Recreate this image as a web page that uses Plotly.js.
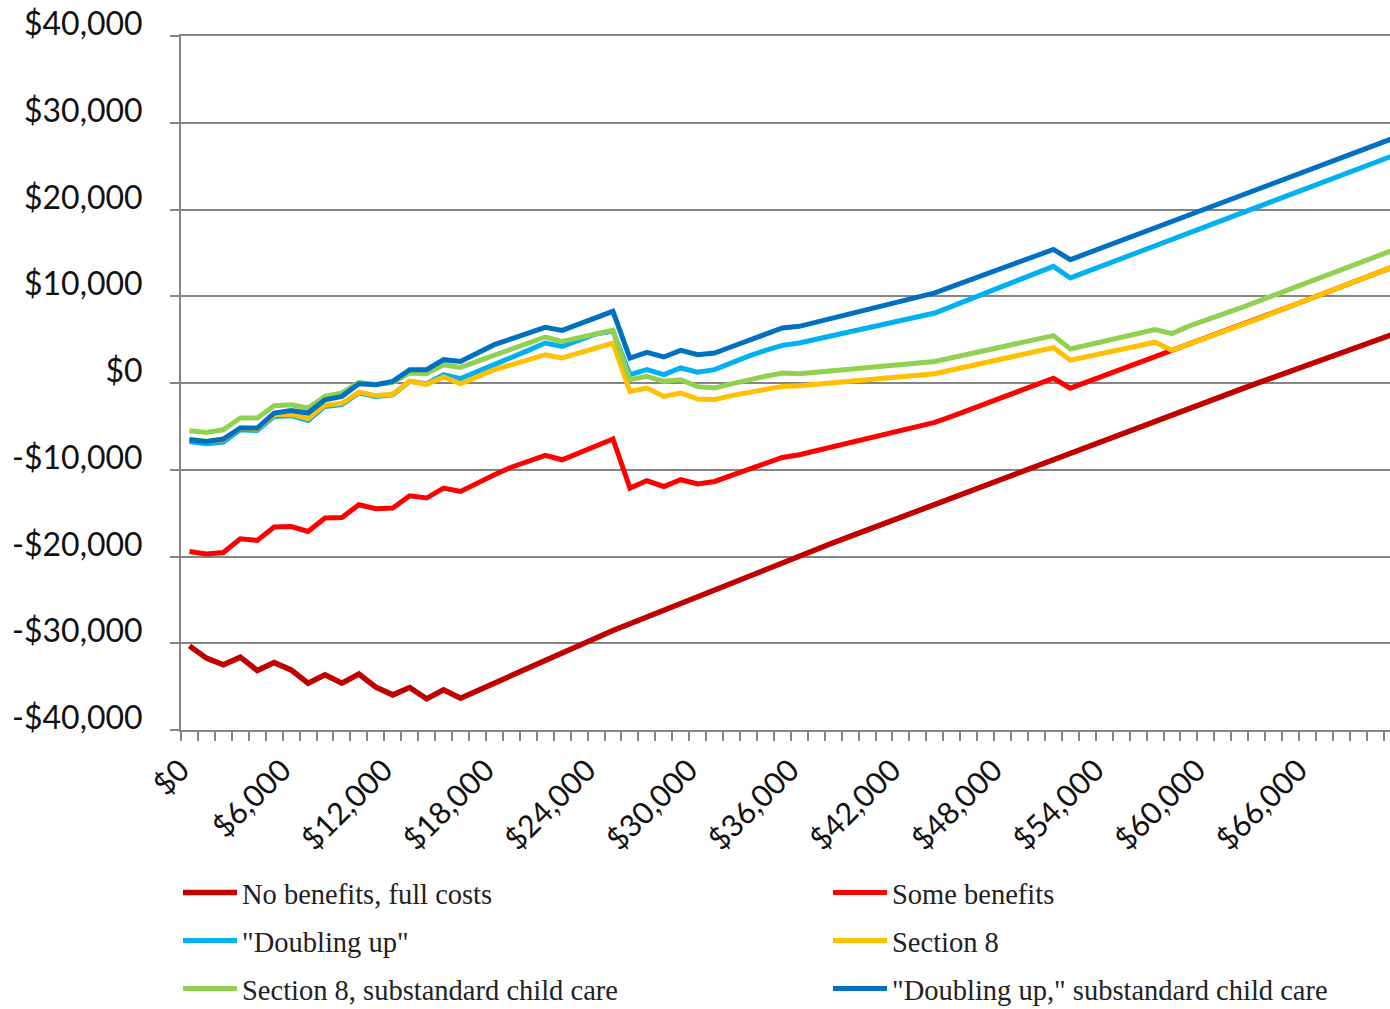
<!DOCTYPE html>
<html>
<head>
<meta charset="utf-8">
<script src="https://cdn.plot.ly/plotly-3.0.1.min.js"></script>
<style>
html,body{margin:0;padding:0;background:#fff;}
#chart{width:1390px;height:1009px;}
</style>
</head>
<body>
<div id="chart"></div>
<script>
// Annual earnings (x categories)
const income = [0,1000,2000,3000,4000,5000,6000,7000,8000,9000,10000,11000,12000,13000,14000,15000,16000,17000,18000,19000,20000,21000,22000,23000,24000,25000,26000,27000,28000,29000,30000,31000,32000,33000,34000,35000,36000,37000,38000,39000,40000,41000,42000,43000,44000,45000,46000,47000,48000,49000,50000,51000,52000,53000,54000,55000,56000,57000,58000,59000,60000,61000,62000,63000,64000,65000,66000,67000,68000,69000,70000,71000];

const noBenefits = [-30300,-31720,-32490,-31600,-33150,-32230,-33070,-34600,-33640,-34600,-33560,-35060,-35950,-35110,-36410,-35370,-36330,
  -35450,-34580,-33700,-32830,-31950,-31080,-30200,-29320,-28530,-27750,-26960,-26180,-25390,-24610,-23820,-23040,-22250,-21470,-20680,
  -19900,-19160,-18420,-17680,-16940,-16200,-15460,-14720,-13980,-13240,-12500,-11760,-11010,-10270,-9530,-8790,-8050,-7310,-6570,-5830,
  -5090,-4300,-3580,-2870,-2170,-1460,-760,-50,650,1360,2060,2770,3470,4180,4880,5590];

const someBenefits = [-19420,-19720,-19540,-17960,-18150,-16610,-16540,-17120,-15570,-15500,-14040,-14500,-14420,-13000,-13260,-12110,-12500,
  -11500,-10580,-9710,-8960,-8350,-8850,-8040,-7230,-6460,
  -12110,-11270,-11930,-11150,-11630,-11350,
  -10650,-9950,-9250,-8580,
  -8270,-7800,-7340,-6870,-6410,-5940,-5470,-5010,-4540,
  -3850,-3100,-2350,-1600,-850,-100,550,-600,
  120,840,1560,2280,3000,3760,
  4450,5140,5840,6590,7340,8100,8850,9600,10350,11100,11860,12610,13360];

const doublingUp = [-6740,-7000,-6810,-5390,-5470,-3850,-3770,-4310,-2700,-2500,-1150,-1540,-1350,190,-80,960,500,
  1280,2110,2930,3760,4610,4220,4950,5650,6000,
  960,1540,960,1730,1250,1540,
  2350,3100,3750,4340,
  4610,5040,5480,5910,6340,6770,7210,7640,8070,
  8840,9610,10380,11150,11910,12680,13450,12110,
  12850,13590,14330,15070,15810,16550,17290,18030,18770,19510,20250,20990,21730,22470,23210,23950,24690,25430,26170];

const section8 = [-6450,-6750,-6550,-5200,-5300,-3650,-3600,-4100,-2550,-2350,-1050,-1450,-1300,200,-150,700,-100,
  700,1530,2100,2750,3260,2880,3470,4060,4610,
  -970,-580,-1550,-1150,-1850,-1900,
  -1450,-1050,-700,-390,
  -310,-140,30,200,380,550,720,900,1070,
  1500,1930,2370,2800,3230,3660,4080,2630,
  3050,3470,3890,4310,4700,3760,
  4450,5140,5840,6590,7340,8100,8850,9600,10350,11100,11860,12610,13360];

const section8Sub = [-5500,-5700,-5390,-4040,-4040,-2620,-2500,-2880,-1540,-1150,70,-200,70,1150,1070,2110,1800,
  2470,3260,3930,4610,5300,4800,5260,5700,6100,
  380,760,190,380,-420,-580,
  -100,400,780,1150,
  1070,1250,1430,1600,1780,1960,2140,2310,2490,
  2910,3340,3760,4190,4610,5040,5460,3920,
  4370,4810,5260,5700,6150,5690,
  6550,7250,7880,8620,9360,10100,10840,11580,12320,13060,13800,14540,15280];

const doublingUpSub = [-6540,-6740,-6460,-5190,-5190,-3460,-3160,-3460,-1930,-1540,-80,-200,190,1530,1530,2690,2490,
  3490,4420,5090,5740,6420,6070,6820,7530,8260,
  2880,3530,3000,3760,3260,3460,
  4180,4900,5620,6340,
  6530,7010,7490,7970,8450,8940,9420,9900,10380,
  11100,11820,12530,13250,13970,14690,15400,14220,
  14960,15700,16440,17180,17920,18660,19400,20140,20880,21600,22330,23060,23790,24520,25250,25980,26710,27440,28170];

const seriesNames = ['No benefits, full costs','Some benefits','"Doubling up"','Section 8','Section 8, substandard child care','"Doubling up," substandard child care'];
const seriesColors = ['#C00000','#FF0000','#00B0F0','#FFC000','#92D050','#0070C0'];

const xTickVals = [0,6000,12000,18000,24000,30000,36000,42000,48000,54000,60000,66000];
const xTickText = ['$0','$6,000','$12,000','$18,000','$24,000','$30,000','$36,000','$42,000','$48,000','$54,000','$60,000','$66,000'];
const yTickVals = [-40000,-30000,-20000,-10000,0,10000,20000,30000,40000];
const yTickText = ['-$40,000','-$30,000','-$20,000','-$10,000','$0','$10,000','$20,000','$30,000','$40,000'];

const allSeries = [noBenefits, someBenefits, doublingUp, section8, section8Sub, doublingUpSub];
const legendIds = ['legend','legend2','legend3','legend4','legend5','legend6'];

const traces = allSeries.map((ys, k) => ({
  type: 'scatter', mode: 'lines', x: income, y: ys, name: seriesNames[k],
  line: {color: seriesColors[k], width: k === 0 ? 5.5 : 5},
  legend: legendIds[k], hoverinfo: 'skip', cliponaxis: true
}));

const gridCol = '#858585';
const legendBase = {
  orientation: 'h', xref: 'container', yref: 'container', xanchor: 'left', yanchor: 'middle',
  itemwidth: 54,
  font: {family: '"Liberation Serif", "DejaVu Serif", serif', size: 28.5, color: '#222'},
  bgcolor: 'rgba(0,0,0,0)', traceorder: 'normal'
};
const colX = [178 / 1390, 828 / 1390];
const rowY = [(1009 - 893) / 1009, (1009 - 941) / 1009, (1009 - 989) / 1009];
function legendAt(col, row) { return Object.assign({}, legendBase, {x: colX[col], y: rowY[row]}); }

const layout = {
  width: 1390, height: 1009,
  margin: {l: 181, r: 0, t: 36, b: 279, pad: 0, autoexpand: false},
  paper_bgcolor: '#ffffff', plot_bgcolor: '#ffffff',
  showlegend: true,
  font: {family: 'Lato, "Open Sans", sans-serif', color: '#111'},
  xaxis: {
    range: [-500, 70870], showgrid: false, zeroline: false,
    showline: true, mirror: true, linecolor: gridCol, linewidth: 2,
    tickmode: 'array', tickvals: xTickVals, ticktext: xTickText,
    ticks: '', tickangle: -45, ticklabelstandoff: 8, ticklabelshift: -9,
    tickfont: {size: 30.5, family: 'Lato, "Open Sans", sans-serif', color: '#111'},
    minor: {ticks: 'outside', tickmode: 'linear', tick0: -500, dtick: 1000, ticklen: 9, tickwidth: 2, tickcolor: gridCol, showgrid: false}
  },
  yaxis: {
    range: [-40000, 40000], showgrid: true, gridcolor: gridCol, gridwidth: 2,
    zeroline: false, showline: true, linecolor: gridCol, linewidth: 2,
    tickmode: 'array', tickvals: yTickVals, ticktext: yTickText,
    ticks: 'outside', ticklen: 9, tickwidth: 2, tickcolor: gridCol,
    ticklabelstandoff: 21, ticklabelshift: -12,
    tickfont: {size: 32, family: 'Lato, "Open Sans", sans-serif', color: '#111'}
  },
  legend: legendAt(0, 0),
  legend2: legendAt(1, 0),
  legend3: legendAt(0, 1),
  legend4: legendAt(1, 1),
  legend5: legendAt(0, 2),
  legend6: legendAt(1, 2)
};

Plotly.newPlot('chart', traces, layout, {displayModeBar: false, staticPlot: true});
</script>
</body>
</html>
